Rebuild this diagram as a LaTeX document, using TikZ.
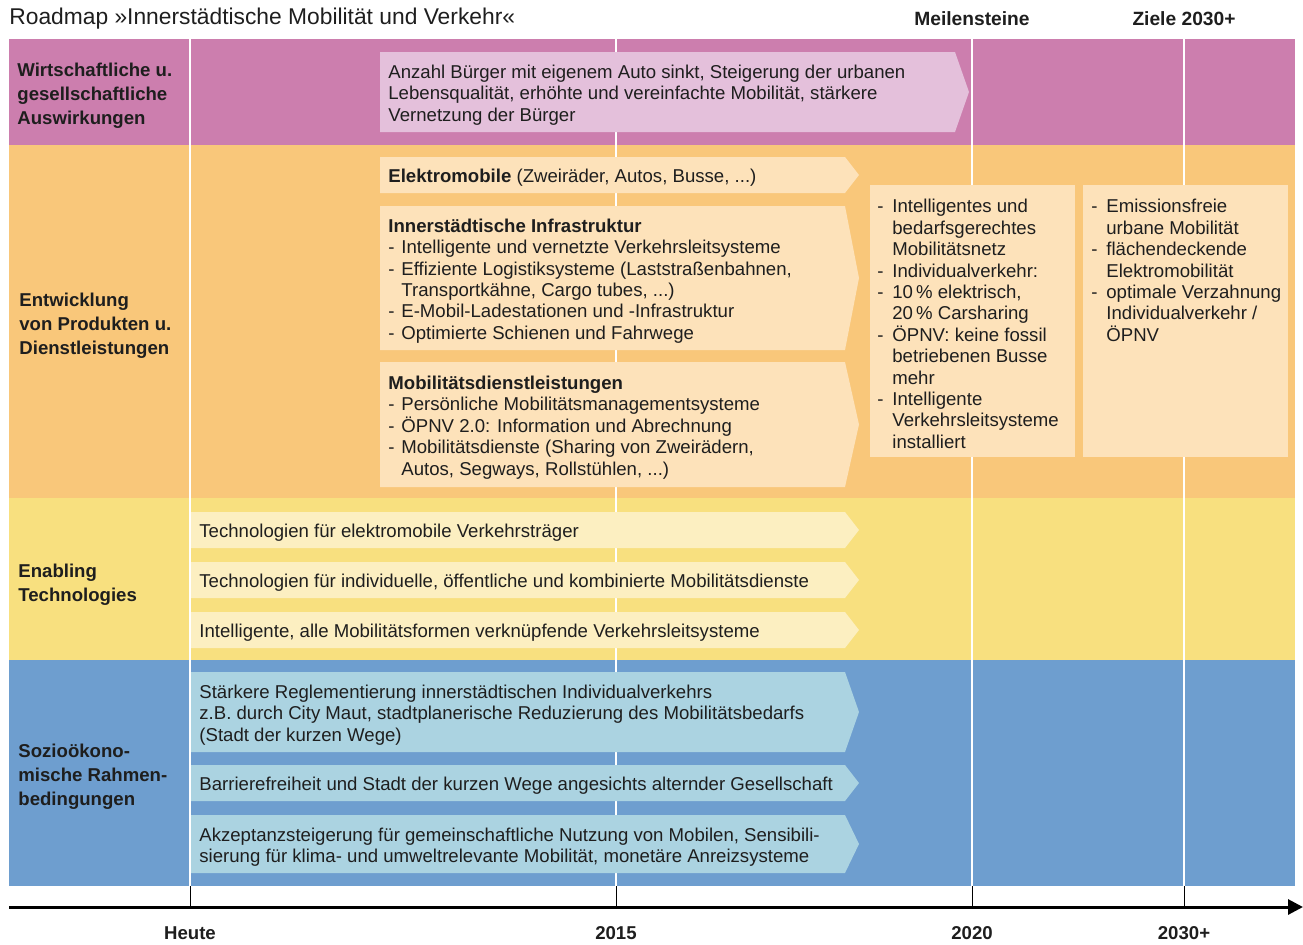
\documentclass[tikz,border=0pt]{standalone}
\usepackage{fontspec}
\setmainfont{Liberation Sans}
\usetikzlibrary{arrows.meta}

\definecolor{pinkband}{HTML}{CC7EAE}
\definecolor{pinkbox}{HTML}{E4C0DB}
\definecolor{orangeband}{HTML}{F9C77A}
\definecolor{orangebox}{HTML}{FDE2BA}
\definecolor{yellowband}{HTML}{F8E07F}
\definecolor{yellowbox}{HTML}{FCEFC1}
\definecolor{blueband}{HTML}{6E9ECF}
\definecolor{bluebox}{HTML}{ABD3E1}
\definecolor{ink}{HTML}{1E1E1E}

% dash item and its continuation indent
\newcommand\dsh[1][6.5pt]{\makebox[#1][l]{-}}
\newcommand\ind[1][6.5pt]{\hspace*{#1}}

% arrow-shaped box: name, x1, y1, x2, y2, fill, text
\newcommand\rbox[7]{%
  \fill[#6] (#2,#3) -- (#4,#3) -- (#4+14,{(#3+#5)/2}) -- (#4,#5) -- (#2,#5) -- cycle;
  \node[boxtext] (#1) at (#2+8,{(#3+#5)/2}) {#7};
}

\tikzset{
  body/.style={inner sep=0pt, text=ink, font=\fontsize{9.3pt}{10.7pt}\selectfont},
  boxtext/.style={body, anchor=west, align=left, yshift=-1.5pt},
  rowlabel/.style={inner sep=0pt, text=ink, anchor=west, align=left, yshift=-1.2pt,
    font=\fontsize{9.3pt}{12pt}\selectfont\bfseries},
  headlabel/.style={inner sep=0pt, text=ink, font=\fontsize{9.6pt}{11pt}\selectfont\bfseries},
  ticklabel/.style={inner sep=0pt, text=ink, font=\fontsize{9.3pt}{11pt}\selectfont\bfseries},
  gridline/.style={white, line width=0.75pt},
  tick/.style={black, line width=0.5pt},
}

\begin{document}
\begin{tikzpicture}[x=0.5pt,y=-0.5pt]
\useasboundingbox (0,0) rectangle (1303,944);

% horizontal bands
\fill[pinkband]   (9,39)  rectangle (1295,145);
\fill[orangeband] (9,145) rectangle (1295,498);
\fill[yellowband] (9,498) rectangle (1295,660);
\fill[blueband]   (9,660) rectangle (1295,886);

% time axis with ticks
\coordinate (axstart) at (9,907);
\coordinate (axend) at (1303,907);
\foreach \t/\n in {190/heute,616/y2015,972/y2020,1184/y2030}{
  \coordinate (\n top) at (\t,39);
  \coordinate (\n bot) at (\t,886);
  \coordinate (\n ax) at (\t,907);
  \draw[gridline] (\n top) -- (\n bot);
  \draw[tick] (\n bot) -- (\n ax);
}
\draw[line width=1.5pt, -{Triangle[length=15*0.5pt,width=15*0.5pt]}] (axstart) -- (axend);

\node[ticklabel] (lheute) at (190,933) {Heute};
\node[ticklabel] (l2015) at (616,933) {2015};
\node[ticklabel] (l2020) at (972,933) {2020};
\node[ticklabel] (l2030) at (1184,933) {2030+};

% headings
\node[inner sep=0pt, text=ink, anchor=west, font=\fontsize{11.4pt}{13pt}\selectfont] (title) at (9,19)
  {Roadmap »Innerstädtische Mobilität und Verkehr«};
\node[headlabel] (meilen) at (972,19) {Meilensteine};
\node[headlabel] (ziele) at (1184,19) {Ziele 2030+};

% row labels
\node[rowlabel] (rowA) at (17,93) {Wirtschaftliche u.\\gesellschaftliche\\Auswirkungen};
\node[rowlabel] (rowB) at (19,323) {Entwicklung\\von Produkten u.\\Dienstleistungen};
\node[rowlabel] (rowC) at (18,582) {Enabling\\Technologies};
\node[rowlabel] (rowD) at (18,774) {Sozioökono-\\mische Rahmen-\\bedingungen};

% impacts
\rbox{impact}{380}{52}{955}{132}{pinkbox}{Anzahl Bürger mit eigenem Auto sinkt, Steigerung der urbanen\\Lebensqualität, erhöhte und vereinfachte Mobilität, stärkere\\Vernetzung der Bürger}

% products and services
\rbox{emob}{380}{157}{845}{193}{orangebox}{\textbf{Elektromobile} (Zweiräder, Autos, Busse, ...)}
\rbox{infra}{380}{206}{845}{350}{orangebox}{\textbf{Innerstädtische Infrastruktur}\\
\dsh Intelligente und vernetzte Verkehrsleitsysteme\\
\dsh Effiziente Logistiksysteme (Laststraßenbahnen,\\
\ind Transportkähne, Cargo tubes, ...)\\
\dsh E-Mobil-Ladestationen und -Infrastruktur\\
\dsh Optimierte Schienen und Fahrwege}
\rbox{dienst}{380}{362}{845}{487}{orangebox}{\textbf{Mobilitätsdienstleistungen}\\
\dsh Persönliche Mobilitätsmanagementsysteme\\
\dsh ÖPNV 2.0: Information und Abrechnung\\
\dsh Mobilitätsdienste (Sharing von Zweirädern,\\
\ind Autos, Segways, Rollstühlen, ...)}

% milestones and goals
\fill[orangebox] (870,185) rectangle (1075,457);
\fill[orangebox] (1083,185) rectangle (1288,457);
\node[body, anchor=north west, align=left] (miles) at (877,199) {%
\dsh[7.5pt]Intelligentes und\\
\ind[7.5pt]bedarfsgerechtes\\
\ind[7.5pt]Mobilitätsnetz\\
\dsh[7.5pt]Individualverkehr:\\
\dsh[7.5pt]10\,\% elektrisch,\\
\ind[7.5pt]20\,\% Carsharing\\
\dsh[7.5pt]ÖPNV: keine fossil\\
\ind[7.5pt]betriebenen Busse\\
\ind[7.5pt]mehr\\
\dsh[7.5pt]Intelligente\\
\ind[7.5pt]Verkehrsleitsysteme\\
\ind[7.5pt]installiert};
\node[body, anchor=north west, align=left] (goals) at (1091,199) {%
\dsh[7.5pt]Emissionsfreie\\
\ind[7.5pt]urbane Mobilität\\
\dsh[7.5pt]flächendeckende\\
\ind[7.5pt]Elektromobilität\\
\dsh[7.5pt]optimale Verzahnung\\
\ind[7.5pt]Individualverkehr /\\
\ind[7.5pt]ÖPNV};

% enabling technologies
\rbox{tech1}{191}{512}{845}{548}{yellowbox}{Technologien für elektromobile Verkehrsträger}
\rbox{tech2}{191}{562}{845}{598}{yellowbox}{Technologien für individuelle, öffentliche und kombinierte Mobilitätsdienste}
\rbox{tech3}{191}{612}{845}{648}{yellowbox}{Intelligente, alle Mobilitätsformen verknüpfende Verkehrsleitsysteme}

% socio-economic framework
\rbox{soc1}{191}{672}{845}{752}{bluebox}{Stärkere Reglementierung innerstädtischen Individualverkehrs\\z.B. durch City Maut, stadtplanerische Reduzierung des Mobilitätsbedarfs\\(Stadt der kurzen Wege)}
\rbox{soc2}{191}{765}{845}{801}{bluebox}{Barrierefreiheit und Stadt der kurzen Wege angesichts alternder Gesellschaft}
\rbox{soc3}{191}{815}{845}{873}{bluebox}{Akzeptanzsteigerung für gemeinschaftliche Nutzung von Mobilen, Sensibili-\\sierung für klima- und umweltrelevante Mobilität, monetäre Anreizsysteme}
\end{tikzpicture}
\end{document}
